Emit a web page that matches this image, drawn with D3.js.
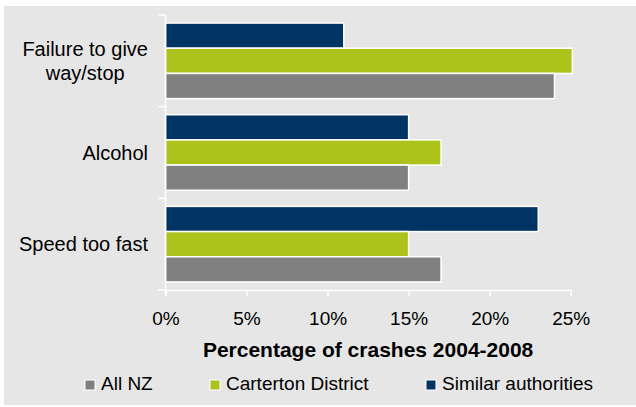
<!DOCTYPE html>
<html lang="en">
<head>
    <meta charset="UTF-8">
    <title>Crash factors</title>
    <script src="https://d3js.org/d3.v7.min.js"></script>
    <style>
        body { margin: 0; background: #fff; }
        svg { display: block; font-family: "Liberation Sans", Arial, sans-serif; }
        .domain, .tick line { stroke: #fff; stroke-width: 1.5px; }
    </style>
</head>
<body>
    <svg width="636" height="407"></svg>
    <script>
        // Data
        const categories = ["Failure to give way/stop", "Alcohol", "Speed too fast"];
        const categoryLines = [["Failure to give", "way/stop"], ["Alcohol"], ["Speed too fast"]];
        const allNZ = [24, 15, 17];
        const carterton = [25.1, 17, 15];
        const similar = [11, 15, 23];
        const xTicks = [0, 5, 10, 15, 20, 25];

        // series drawn top to bottom inside each category
        const series = [
            {name: "Similar authorities", values: similar, color: "#003463"},
            {name: "Carterton District", values: carterton, color: "#abc31a"},
            {name: "All NZ", values: allNZ, color: "#808080"}
        ];
        const legendOrder = ["All NZ", "Carterton District", "Similar authorities"];

        const svg = d3.select("svg");

        // grey panel
        svg.append("rect")
            .attr("x", 4).attr("y", 6)
            .attr("width", 632).attr("height", 399)
            .attr("fill", "#e6e6e6");

        const x = d3.scaleLinear().domain([0, 25]).range([165.5, 570.7]);
        const y = d3.scaleBand().domain(categories).range([15, 290]);
        const ySub = d3.scaleBand()
            .domain(series.map(s => s.name))
            .range([0, y.bandwidth()])
            .paddingOuter(0.32);

        // bars
        categories.forEach((cat, i) => {
            svg.append("g")
                .selectAll("rect")
                .data(series)
                .join("rect")
                .attr("x", x(0))
                .attr("y", s => y(cat) + ySub(s.name))
                .attr("width", s => x(s.values[i]) - x(0))
                .attr("height", ySub.bandwidth())
                .attr("fill", s => s.color)
                .attr("stroke", "#fff")
                .attr("stroke-width", 1.5);
        });

        // x axis
        const xAxis = svg.append("g")
            .attr("transform", "translate(0,290)")
            .call(d3.axisBottom(x).tickValues(xTicks).tickFormat(d => d + "%").tickSize(6).tickSizeOuter(0));
        xAxis.selectAll("text")
            .attr("y", 0).attr("dy", 0)
            .attr("transform", "translate(0,35)")
            .attr("fill", "#000")
            .style("font-size", "19px")
            .style("font-family", "Liberation Sans, Arial, sans-serif");

        // y axis line and category boundary ticks
        svg.append("line")
            .attr("x1", x(0)).attr("x2", x(0))
            .attr("y1", 15).attr("y2", 296)
            .attr("stroke", "#fff").attr("stroke-width", 1.5);
        const bounds = categories.map(c => y(c)).concat([y.range()[1]]);
        svg.append("g")
            .selectAll("line")
            .data(bounds)
            .join("line")
            .attr("x1", x(0) - 7).attr("x2", x(0))
            .attr("y1", d => d).attr("y2", d => d)
            .attr("stroke", "#fff").attr("stroke-width", 1.5);

        // category labels (block right aligned, lines centred to each other)
        categories.forEach((cat, i) => {
            const lines = categoryLines[i];
            const cy = y(cat) + y.bandwidth() / 2;
            const lh = 24;
            const first = svg.append("text")
                .attr("x", 148)
                .attr("y", cy - (lines.length - 1) * lh / 2 + 7)
                .attr("text-anchor", "end")
                .style("font-size", "20px")
                .attr("fill", "#000")
                .text(lines[0]);
            const w = first.node().getComputedTextLength();
            for (let k = 1; k < lines.length; k++) {
                svg.append("text")
                    .attr("x", 148 - w / 2)
                    .attr("y", cy - (lines.length - 1) * lh / 2 + 7 + k * lh)
                    .attr("text-anchor", "middle")
                    .style("font-size", "20px")
                    .attr("fill", "#000")
                    .text(lines[k]);
            }
        });

        // axis title
        svg.append("text")
            .attr("x", (x(0) + x(25)) / 2)
            .attr("y", 357)
            .attr("text-anchor", "middle")
            .style("font-size", "21px")
            .style("font-weight", "bold")
            .attr("fill", "#000")
            .text("Percentage of crashes 2004-2008");

        // legend
        const legendX = [85, 210, 426];
        const legend = svg.append("g")
            .selectAll("g")
            .data(legendOrder)
            .join("g")
            .attr("transform", (d, i) => `translate(${legendX[i]},380)`);
        legend.append("rect")
            .attr("width", 10).attr("height", 10)
            .attr("fill", d => series.find(s => s.name === d).color)
            .attr("stroke", "#fff").attr("stroke-width", 1);
        legend.append("text")
            .attr("x", 16).attr("y", 10)
            .style("font-size", "19px")
            .attr("fill", "#000")
            .text(d => d);
    </script>
</body>
</html>
